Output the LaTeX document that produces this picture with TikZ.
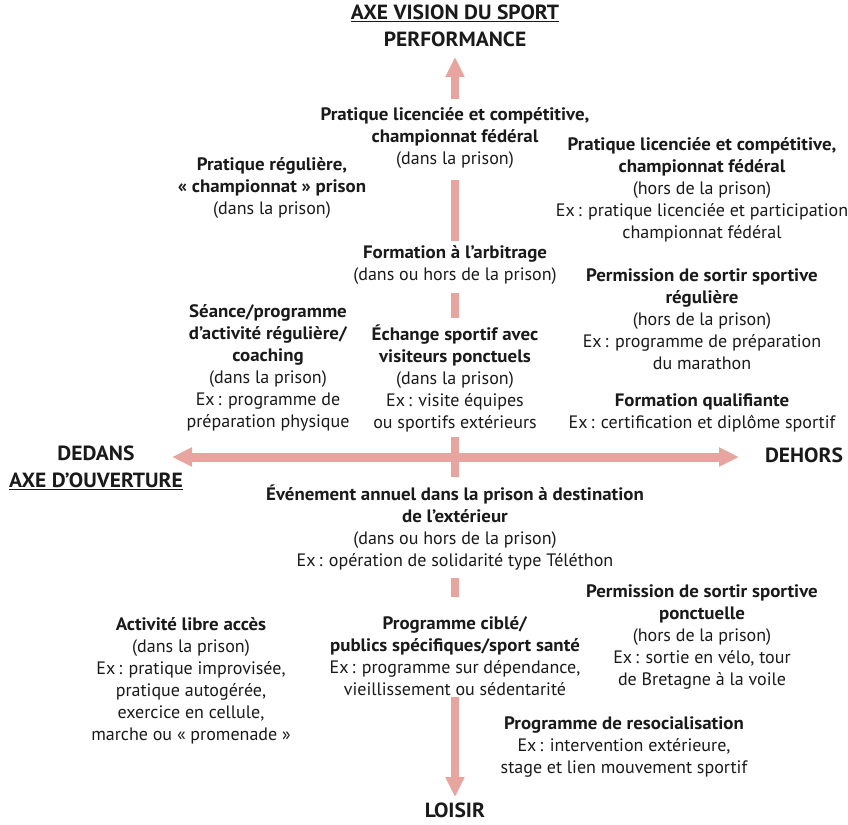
\documentclass[tikz,border=0pt]{standalone}
\usepackage{fontspec}
\setmainfont{PT Sans}[BoldFeatures={FakeStretch=1.05}]
\usetikzlibrary{arrows.meta}
\definecolor{axispink}{RGB}{232,165,160}
\definecolor{txt}{RGB}{26,26,26}
\newcommand{\myts}{\rule{0pt}{18pt}}
\newcommand{\mytl}{\rule{0pt}{20pt}}
\begin{document}
\begin{tikzpicture}[x=1pt,y=-1pt,
  blk/.style={anchor=north, inner sep=0pt, align=center, text=txt,
    font=\fontsize{18}{22}\selectfont},
  lbl/.style={anchor=north, inner sep=0pt, align=center, text=txt,
    font=\fontsize{20.5}{27}\selectfont\bfseries},
  axisv/.style={draw=axispink, line width=8pt, line cap=butt},
  axish/.style={draw=axispink, line width=9pt, line cap=butt},
  tipv/.style={-{Triangle[width=18pt,length=20pt]}},
  tiph/.style={{Triangle[width=18pt,length=20pt]}-{Triangle[width=18pt,length=20pt]}}
]
\fill[white] (0,0) rectangle (848,824);
\useasboundingbox (0,0) rectangle (848,824);

% axis coordinates
\coordinate (upTip) at (455,57);
\coordinate (upEnd) at (455,99);
\coordinate (s2a) at (455,180);
\coordinate (s2b) at (455,241);
\coordinate (s3a) at (455,293);
\coordinate (s3b) at (455,318);
\coordinate (s4a) at (455,437);
\coordinate (s4b) at (455,477);
\coordinate (s5a) at (455,578);
\coordinate (s5b) at (455,597);
\coordinate (downStart) at (455,697);
\coordinate (downTip) at (455,797);
\coordinate (leftTip) at (172,457);
\coordinate (rightTip) at (739,457);

\draw[axish, tiph] (leftTip) -- (rightTip);
\draw[axisv, tipv] (upEnd) -- (upTip);
\draw[axisv] (s2a) -- (s2b);
\draw[axisv] (s3a) -- (s3b);
\draw[axisv] (s4a) -- (s4b);
\draw[axisv] (s5a) -- (s5b);
\draw[axisv, tipv] (downStart) -- (downTip);

% texts
\node[lbl] (title) at (455,-1) {\mytl\underline{AXE VISION DU SPORT}\\PERFORMANCE};
\node[blk] (A) at (455,102.5) {\myts\textbf{Pratique licenciée et compétitive,}\\\textbf{championnat fédéral}\\(dans la prison)};
\node[blk] (B) at (272,152.5) {\myts\textbf{Pratique régulière,}\\\textbf{«~championnat~» prison}\\(dans la prison)};
\node[blk] (C) at (702,132.5) {\myts\textbf{Pratique licenciée et compétitive,}\\\textbf{championnat fédéral}\\(hors de la prison)\\Ex\,: pratique licenciée et participation\\championnat fédéral};
\node[blk] (D) at (455,240.5) {\myts\textbf{Formation à l’arbitrage}\\(dans ou hors de la prison)};
\node[blk] (E) at (702,263.5) {\myts\textbf{Permission de sortir sportive}\\\textbf{régulière}\\(hors de la prison)\\Ex\,: programme de préparation\\du marathon};
\node[blk] (F) at (268,299.5) {\myts\textbf{Séance/programme}\\\textbf{d’activité régulière/}\\\textbf{coaching}\\(dans la prison)\\Ex\,: programme de\\préparation physique};
\node[blk] (G) at (455,322.5) {\myts\textbf{Échange sportif avec}\\\textbf{visiteurs ponctuels}\\(dans la prison)\\Ex\,: visite équipes\\ou sportifs extérieurs};
\node[blk] (H) at (702,388.5) {\myts\textbf{Formation qualifiante}\\Ex\,: certification et diplôme sportif};
\node[lbl] (dedans) at (96,440) {\mytl DEDANS\\\underline{AXE D’OUVERTURE}};
\node[lbl] (dehors) at (804,442) {\mytl DEHORS};
\node[blk] (I) at (455,482.5) {\myts\textbf{Événement annuel dans la prison à destination}\\\textbf{de l’extérieur}\\(dans ou hors de la prison)\\Ex\,: opération de solidarité type Téléthon};
\node[blk] (J) at (191,612.5) {\myts\textbf{Activité libre accès}\\(dans la prison)\\Ex\,: pratique improvisée,\\pratique autogérée,\\exercice en cellule,\\marche ou «~promenade~»};
\node[blk] (K) at (455,611.5) {\myts\textbf{Programme ciblé/}\\\textbf{publics spécifiques/sport santé}\\Ex\,: programme sur dépendance,\\vieillissement ou sédentarité};
\node[blk] (L) at (702,579.5) {\myts\textbf{Permission de sortir sportive}\\\textbf{ponctuelle}\\(hors de la prison)\\Ex\,: sortie en vélo, tour\\de Bretagne à la voile};
\node[blk] (M) at (624,711.5) {\myts\textbf{Programme de resocialisation}\\Ex\,: intervention extérieure,\\stage et lien mouvement sportif};
\node[lbl] (loisir) at (455,797) {\mytl LOISIR};
\end{tikzpicture}
\end{document}
